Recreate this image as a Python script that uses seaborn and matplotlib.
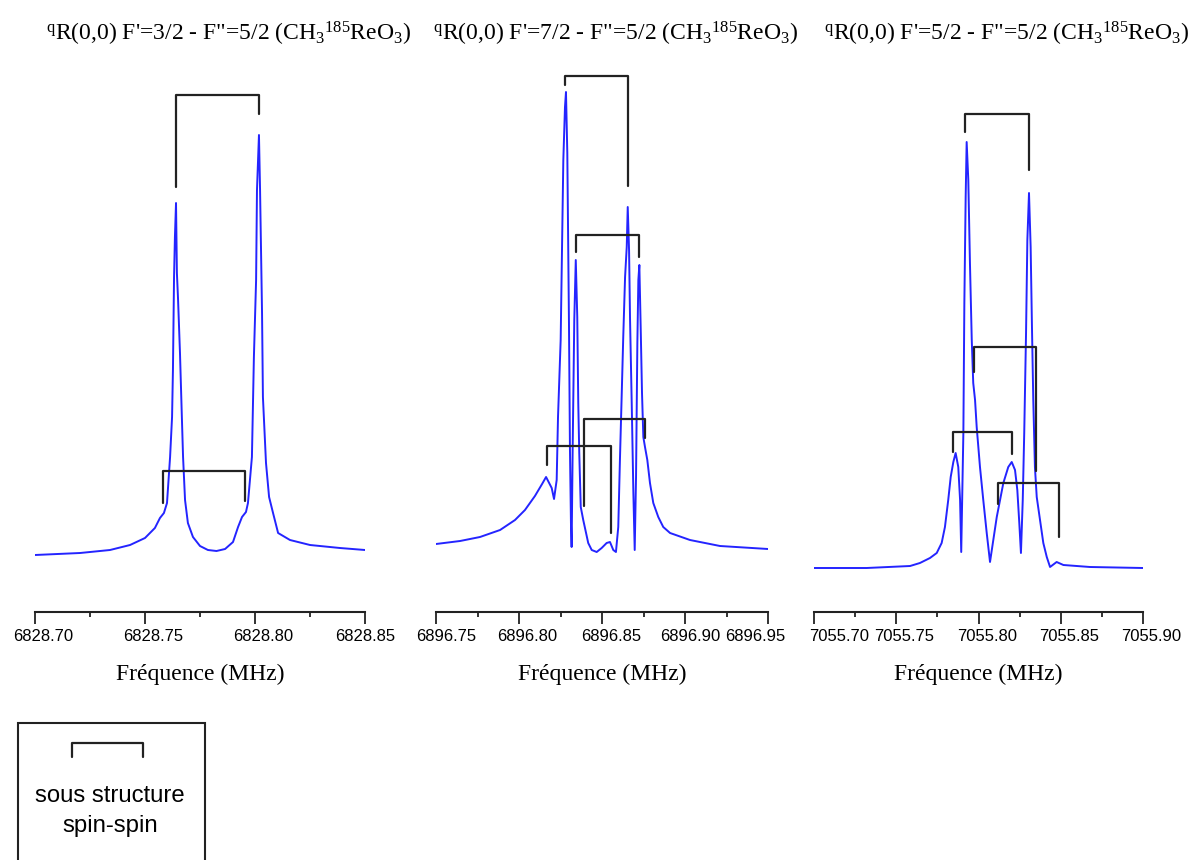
import seaborn as sns
import matplotlib.pyplot as plt
from matplotlib.patches import Rectangle
from matplotlib.lines import Line2D
from matplotlib.ticker import MultipleLocator, FormatStrFormatter
import matplotlib.transforms as mtransforms

# ---- data (frequency in MHz, intensity in arbitrary units) ----
freq1 = [6828.7000, 6828.7205, 6828.7341, 6828.7432, 6828.7500, 6828.7545, 6828.7568,
         6828.7586, 6828.7600, 6828.7614, 6828.7623, 6828.7627, 6828.7632, 6828.7636,
         6828.7641, 6828.7645, 6828.7650, 6828.7659, 6828.7667, 6828.7673, 6828.7682,
         6828.7695, 6828.7718, 6828.7750, 6828.7786, 6828.7825, 6828.7864, 6828.7900,
         6828.7923, 6828.7941, 6828.7959, 6828.7968, 6828.7986, 6828.7995, 6828.8005,
         6828.8009, 6828.8018, 6828.8023, 6828.8032, 6828.8036, 6828.8050, 6828.8064,
         6828.8082, 6828.8105, 6828.8159, 6828.8250, 6828.8386, 6828.8500]
int1 = [57, 59, 62, 67, 74, 84, 94, 99, 109, 155, 195, 242, 335, 375, 409, 339, 314,
        259, 199, 155, 112, 89, 75, 66, 62, 61, 63, 70, 85, 95, 100, 109, 155, 255, 332,
        422, 477, 422, 299, 215, 149, 115, 99, 79, 72, 67, 64, 62]

freq2 = [6896.7500, 6896.7645, 6896.7765, 6896.7886, 6896.7976, 6896.8036, 6896.8096,
         6896.8139, 6896.8163, 6896.8197, 6896.8211, 6896.8227, 6896.8235, 6896.8251,
         6896.8259, 6896.8267, 6896.8277, 6896.8283, 6896.8291, 6896.8301, 6896.8307,
         6896.8313, 6896.8317, 6896.8323, 6896.8333, 6896.8342, 6896.8351, 6896.8357,
         6896.8363, 6896.8372, 6896.8387, 6896.8404, 6896.8417, 6896.8438, 6896.8468,
         6896.8498, 6896.8528, 6896.8548, 6896.8568, 6896.8584, 6896.8598, 6896.8608,
         6896.8619, 6896.8628, 6896.8639, 6896.8649, 6896.8655, 6896.8663, 6896.8669,
         6896.8679, 6896.8689, 6896.8697, 6896.8705, 6896.8713, 6896.8719, 6896.8725,
         6896.8733, 6896.8741, 6896.8749, 6896.8759, 6896.8773, 6896.8789, 6896.8809,
         6896.8839, 6896.8869, 6896.8910, 6896.9030, 6896.9211, 6896.9500]
int2 = [68, 71, 75, 82, 92, 102, 116, 128, 135, 124, 113, 132, 195, 272, 362, 452, 505,
        520, 459, 289, 162, 89, 65, 159, 292, 352, 295, 209, 159, 105, 92, 79, 69, 62,
        60, 64, 69, 70, 62, 60, 85, 152, 219, 275, 335, 365, 405, 362, 292, 209, 119,
        62, 135, 269, 332, 347, 285, 219, 175, 165, 152, 129, 109, 95, 85, 79, 72, 66, 63]

freq3 = [7055.7000, 7055.7320, 7055.7584, 7055.7644, 7055.7705, 7055.7746, 7055.7776,
         7055.7796, 7055.7816, 7055.7831, 7055.7847, 7055.7861, 7055.7877, 7055.7888,
         7055.7895, 7055.7908, 7055.7914, 7055.7922, 7055.7928, 7055.7938, 7055.7948,
         7055.7959, 7055.7968, 7055.7979, 7055.7989, 7055.8009, 7055.8029, 7055.8050,
         7055.8070, 7055.8090, 7055.8111, 7055.8131, 7055.8151, 7055.8181, 7055.8202,
         7055.8222, 7055.8236, 7055.8248, 7055.8258, 7055.8269, 7055.8278, 7055.8289,
         7055.8297, 7055.8307, 7055.8317, 7055.8325, 7055.8333, 7055.8343, 7055.8354,
         7055.8374, 7055.8394, 7055.8415, 7055.8435, 7055.8475, 7055.8516, 7055.8678,
         7055.9000]
int3 = [44, 44, 46, 49, 54, 59, 69, 85, 112, 135, 150, 159, 145, 112, 60, 179, 309, 415,
        470, 432, 349, 272, 229, 212, 185, 145, 112, 79, 50, 72, 95, 112, 129, 145, 150,
        142, 122, 89, 59, 112, 179, 279, 372, 419, 365, 285, 212, 145, 115, 92, 69, 55,
        45, 50, 47, 45, 44]

# brackets: left freq, right freq, top, left leg end, right leg end
brackets1 = [(6828.7641, 6828.8018, 517, 425, 498),
             (6828.7582, 6828.7955, 141, 109, 111)]
brackets2 = [(6896.8277, 6896.8655, 536, 527, 426),
             (6896.8343, 6896.8723, 377, 360, 355),
             (6896.8392, 6896.8761, 193, 106, 174),
             (6896.8167, 6896.8552, 166, 147, 79)]
brackets3 = [(7055.7918, 7055.8309, 498, 480, 442),
             (7055.7974, 7055.8350, 265, 240, 141),
             (7055.7843, 7055.8205, 180, 160, 158),
             (7055.8120, 7055.8491, 129, 108, 75)]

xlims = [(6828.70, 6828.85), (6896.75, 6896.95), (7055.70, 7055.90)]
titles = [r'''$^{\mathrm{q}}$R(0,0) F'=3/2 - F"=5/2 (CH$_{\mathrm{3}}$$^{\mathrm{185}}$ReO$_{\mathrm{3}}$)''',
          r'''$^{\mathrm{q}}$R(0,0) F'=7/2 - F"=5/2 (CH$_{\mathrm{3}}$$^{\mathrm{185}}$ReO$_{\mathrm{3}}$)''',
          r'''$^{\mathrm{q}}$R(0,0) F'=5/2 - F"=5/2 (CH$_{\mathrm{3}}$$^{\mathrm{185}}$ReO$_{\mathrm{3}}$)''']

sns.set_style("white")
plt.rcParams['font.family'] = ['Liberation Serif', 'DejaVu Serif']
plt.rcParams['mathtext.fontset'] = 'custom'
plt.rcParams['mathtext.rm'] = 'Liberation Serif'
plt.rcParams['mathtext.it'] = 'Liberation Serif:italic'
plt.rcParams['text.color'] = 'black'
plt.rcParams['axes.labelcolor'] = 'black'
plt.rcParams['xtick.color'] = 'black'

W, H = 1195, 860
fig = plt.figure(figsize=(W / 100, H / 100), dpi=100)

panels = [(35, 330), (436, 332), (814, 329)]
title_x = [229, 616, 1007]
label_shift = [[8, 8, 8, 0], [10, 8, 9, 5, -13], [25, 8, 9, 8, 8]]
spectra = [(freq1, int1, brackets1), (freq2, int2, brackets2), (freq3, int3, brackets3)]

for i, ((left, width), (fx, iy, brs)) in enumerate(zip(panels, spectra)):
    ax = fig.add_axes([left / W, 1 - 612 / H, width / W, 552 / H])
    sns.lineplot(x=fx, y=iy, ax=ax, color="#2424ff", lw=1.4, sort=False, estimator=None)
    for l, r, top, lb, rb in brs:
        ax.plot([l, l, r, r], [lb, top, top, rb], color="#222222", lw=1.6)
    ax.set_xlim(*xlims[i])
    ax.set_ylim(0, 552)
    sns.despine(ax=ax, left=True, top=True, right=True)
    ax.spines['bottom'].set_linewidth(1.5)
    ax.spines['bottom'].set_color('#222222')
    ax.set_yticks([])
    ax.xaxis.set_major_locator(MultipleLocator(0.05))
    ax.xaxis.set_minor_locator(MultipleLocator(0.025))
    ax.xaxis.set_major_formatter(FormatStrFormatter('%.2f'))
    ax.tick_params(axis='x', which='major', bottom=True, direction='out', length=8.5,
                   width=1.3, color='#222222', labelcolor='black', labelsize=12, pad=4)
    ax.tick_params(axis='x', which='minor', bottom=True, direction='out', length=3.5,
                   width=1.3, color='#222222')
    for lab in ax.get_xticklabels():
        lab.set_family(['Liberation Sans', 'DejaVu Sans'])
    fig.canvas.draw()
    ticks = [t for t in ax.get_xticklabels() if xlims[i][0] - 1e-6 <= t.get_position()[0] <= xlims[i][1] + 1e-6]
    for t, dx in zip(ticks, label_shift[i]):
        t.set_transform(t.get_transform() + mtransforms.ScaledTranslation(dx / 100, 0, fig.dpi_scale_trans))
    ax.set_xlabel("Fréquence (MHz)", fontsize=17, labelpad=14)
    fig.text(title_x[i] / W, 1 - 34 / H, titles[i], ha='center', va='center', fontsize=17)

# legend box
fig.add_artist(Rectangle((18 / W, -0.01), 187 / W, 0.01 + (860 - 723) / H,
                         transform=fig.transFigure, fill=False, edgecolor='#222222', lw=1.5))
fig.add_artist(Line2D([72 / W, 72 / W, 143 / W, 143 / W],
                      [1 - 757 / H, 1 - 743 / H, 1 - 743 / H, 1 - 757 / H],
                      transform=fig.transFigure, color='#222222', lw=1.6))
fig.text(110 / W, 1 - 796 / H, "sous structure", ha='center', va='center', fontsize=17.2,
         family=['Liberation Sans', 'DejaVu Sans'])
fig.text(110 / W, 1 - 826 / H, "spin-spin", ha='center', va='center', fontsize=17.2,
         family=['Liberation Sans', 'DejaVu Sans'])

fig.savefig("out.png", dpi=100)
